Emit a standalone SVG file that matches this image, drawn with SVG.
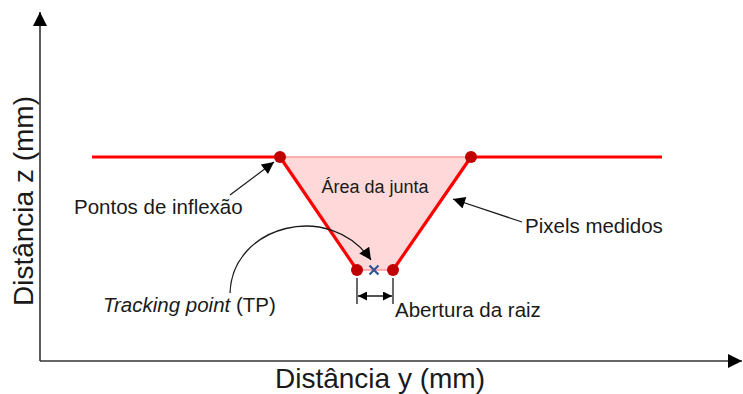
<svg xmlns="http://www.w3.org/2000/svg" width="743" height="394" viewBox="0 0 743 394">
<defs>
<style>
text{font-family:"Liberation Sans",Arial,sans-serif;fill:#1a1a1a}
.lbl{font-size:20.5px}
.ax{font-size:28px}
.axis{stroke:#333;stroke-width:1.6;fill:none}
.prof{stroke:#ff0000;stroke-width:3.2;fill:none;stroke-linejoin:round}
.dot{fill:#c00000}
.ptr{stroke:#1a1a1a;stroke-width:1.3;fill:none}
</style>
<marker id="ah" viewBox="0 0 10 10" refX="10" refY="5" markerWidth="14" markerHeight="12" markerUnits="userSpaceOnUse" orient="auto-start-reverse">
<path d="M0,0 L10,5 L0,10 z" fill="#000"/>
</marker>
<marker id="ahb" viewBox="0 0 10 10" refX="10" refY="5" markerWidth="15" markerHeight="14" markerUnits="userSpaceOnUse" orient="auto">
<path d="M0,0 L10,5 L0,10 z" fill="#000"/>
</marker>
<marker id="ahs" viewBox="0 0 10 10" refX="10" refY="5" markerWidth="9" markerHeight="9" markerUnits="userSpaceOnUse" orient="auto-start-reverse">
<path d="M0,0 L10,5 L0,10 z" fill="#000"/>
</marker>
</defs>
<g id="axes">
<line class="axis" x1="40" y1="361" x2="40" y2="12" marker-end="url(#ahb)"/>
<line class="axis" x1="40" y1="361" x2="742" y2="361" marker-end="url(#ahb)"/>
<text class="ax" x="380" y="388" text-anchor="middle">Distância y (mm)</text>
<text class="ax" transform="translate(33,201) rotate(-90)" text-anchor="middle">Distância z (mm)</text>
</g>
<g id="joint-area">
<polygon points="280,157 471,157 393,270 357,270" fill="#ffd9d9" stroke="#ff9a9a" stroke-width="1.5"/>
<text x="375" y="193" text-anchor="middle" style="font-size:18px">Área da junta</text>
</g>
<g id="profile">
<polyline class="prof" points="92,157 280,157 357,270"/>
<polyline class="prof" points="393,270 471,157 662,157"/>
</g>
<g id="points">
<circle class="dot" cx="280" cy="157" r="6"/>
<circle class="dot" cx="471" cy="157" r="6"/>
<circle class="dot" cx="357" cy="270" r="6"/>
<circle class="dot" cx="393" cy="270" r="6"/>
</g>
<g id="tracking-point">
<path d="M369.5,265.5 L378.5,274.5 M378.5,265.5 L369.5,274.5" stroke="#2f5597" stroke-width="2.2"/>
</g>
<g id="connectors">
<line class="ptr" x1="230" y1="195" x2="274" y2="162" marker-end="url(#ah)"/>
<line class="ptr" x1="522" y1="222" x2="453" y2="199" marker-end="url(#ah)"/>
<path class="ptr" d="M230,293 C232,225 330,200 371,260" marker-end="url(#ah)"/>
<line class="ptr" x1="357" y1="278" x2="357" y2="304"/>
<line class="ptr" x1="393" y1="278" x2="393" y2="304"/>
<line class="ptr" x1="358" y1="296" x2="392" y2="296" marker-start="url(#ahs)" marker-end="url(#ahs)"/>
</g>
<g id="labels">
<text class="lbl" x="74" y="214">Pontos de inflexão</text>
<text class="lbl" x="525" y="233">Pixels medidos</text>
<text class="lbl" x="103" y="312"><tspan font-style="italic">Tracking point</tspan> (TP)</text>
<text class="lbl" x="395" y="317">Abertura da raiz</text>
</g>
</svg>
